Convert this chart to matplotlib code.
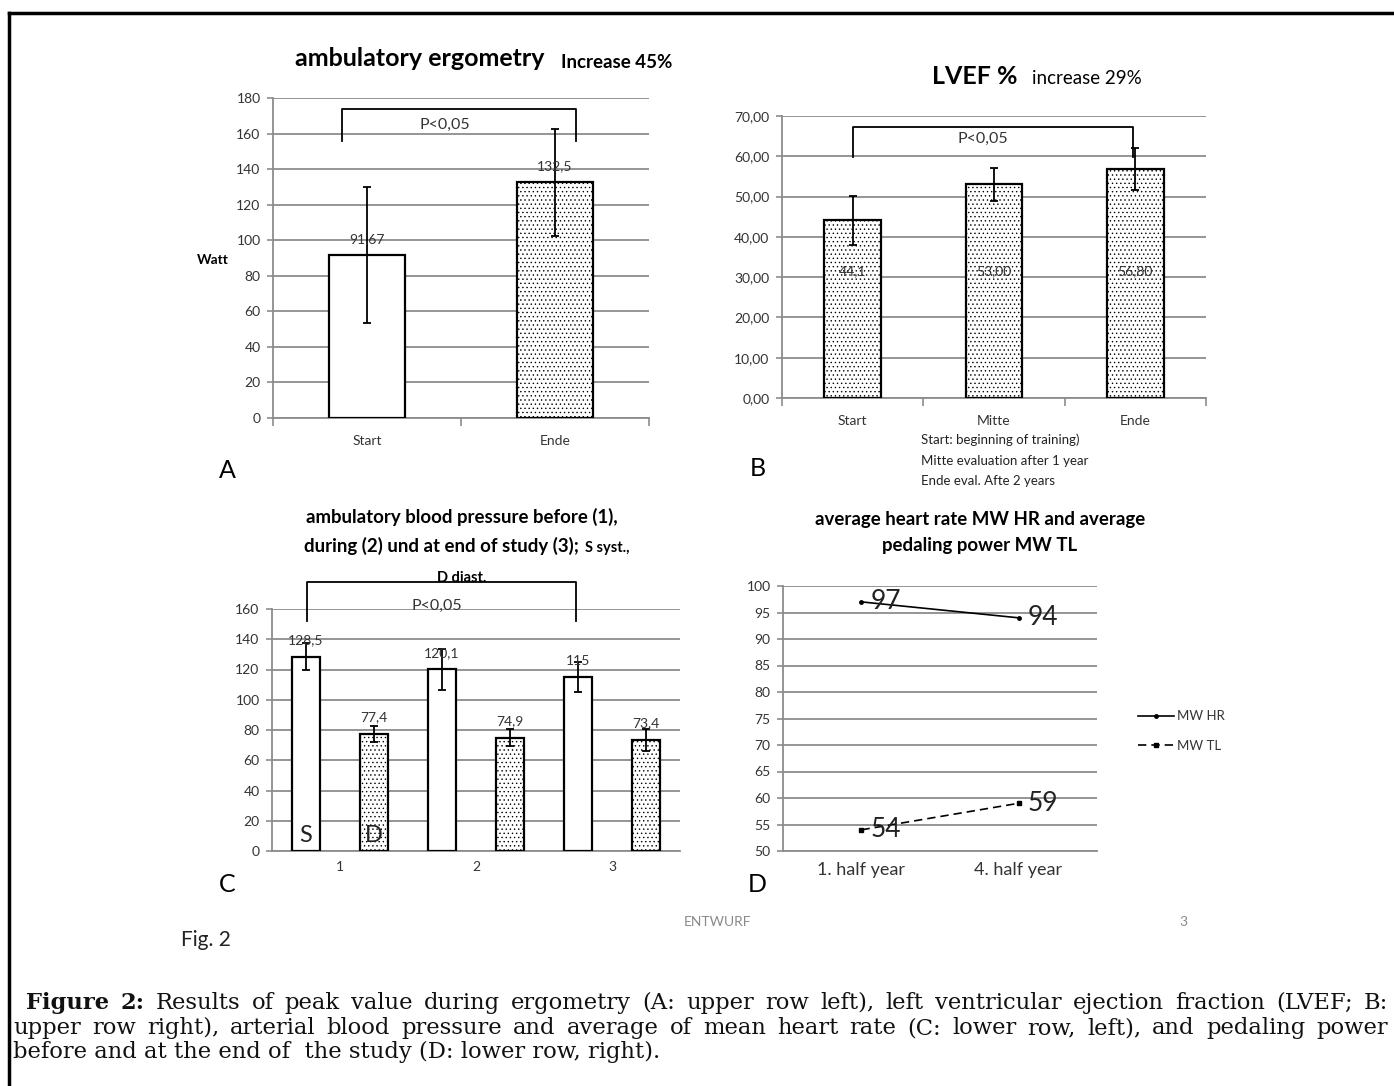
import matplotlib
matplotlib.use('Agg')
import matplotlib.pyplot as plt
from matplotlib.lines import Line2D

# ---------------- data ----------------
A_cats = ['Start', 'Ende']
A_vals = [91.67, 132.5]
A_err = [38.5, 30.0]
A_labels = ['91,67', '132,5']

B_cats = ['Start', 'Mitte', 'Ende']
B_vals = [44.1, 53.0, 56.8]
B_err = [6.1, 4.0, 5.2]
B_labels = ['44,1', '53,00', '56,80']

C_cats = ['1', '2', '3']
C_syst = [128.5, 120.1, 115.0]
C_syst_err = [9.0, 13.5, 10.0]
C_syst_labels = ['128,5', '120,1', '115']
C_diast = [77.4, 74.9, 73.4]
C_diast_err = [5.3, 5.6, 7.5]
C_diast_labels = ['77,4', '74,9', '73,4']

D_cats = ['1. half year', '4. half year']
D_hr = [97, 94]
D_tl = [54, 59]

# ---------------- setup ----------------
W, H = 1394, 1086
plt.rcParams['font.family'] = ['Lato', 'DejaVu Sans']
plt.rcParams['hatch.linewidth'] = 0.5
fig = plt.figure(figsize=(W / 100, H / 100), dpi=100)

GRAY = '#8c8c8c'
TXT = '#333333'
SERIF = ['DejaVu Serif']
HATCH = '....'


def px(x, y):
    return x / W, 1 - y / H


def ftext(x, y, s, **kw):
    return fig.text(x / W, 1 - y / H, s, **kw)


def ax_at(l, t, r, b):
    return fig.add_axes([l / W, 1 - b / H, (r - l) / W, (b - t) / H])


def style(ax, ymax, step, fmt, ncat, xpad, xfs=10, boundary_ticks=True, ymin=0):
    ax.set_ylim(ymin, ymax)
    ticks = list(range(ymin, ymax + 1, step))
    ax.set_yticks(ticks)
    ax.set_yticklabels([fmt(t) for t in ticks])
    ax.set_xlim(-0.5, ncat - 0.5)
    ax.yaxis.grid(True, color=GRAY, lw=1.3)
    ax.set_axisbelow(True)
    for s in ['top', 'right']:
        ax.spines[s].set_visible(False)
    for s in ['left', 'bottom']:
        ax.spines[s].set_color(GRAY)
        ax.spines[s].set_linewidth(1.3)
    ax.tick_params(axis='y', length=4, color=GRAY, width=1.2, labelsize=10,
                   labelcolor=TXT, pad=5)
    ax.tick_params(axis='x', which='major', length=0, labelsize=xfs,
                   labelcolor=TXT, pad=xpad)
    if boundary_ticks:
        ax.set_xticks([i - 0.5 for i in range(ncat + 1)], minor=True)
        ax.tick_params(axis='x', which='minor', length=6, color=GRAY, width=1.2)


def bracket(ax, x0, x1, ytop, ybot):
    ax.plot([x0, x0, x1, x1], [ybot, ytop, ytop, ybot], color='black',
            lw=1.3, clip_on=False, zorder=5)


EB = dict(ecolor='black', elinewidth=1.3, capsize=3, capthick=1.3)

# ---------------- Panel A ----------------
axA = ax_at(273, 98, 649, 418)
style(axA, 180, 20, lambda v: f'{v}', 2, xpad=12)
xa = list(range(len(A_cats)))
axA.bar(xa[0], A_vals[0], 0.4, color='white', edgecolor='black', lw=1.6,
        yerr=A_err[0], error_kw=EB, zorder=3)
axA.bar(xa[1], A_vals[1], 0.4, color='white', edgecolor='black', lw=1.6,
        hatch=HATCH, yerr=A_err[1], error_kw=EB, zorder=3)
axA.set_xticks(xa)
axA.set_xticklabels(A_cats)
for x, v, lab in zip(xa, A_vals, A_labels):
    axA.annotate(lab, (x, v), xytext=(0, 16), textcoords='offset pixels',
                 ha='center', va='center', fontsize=10, color=TXT, zorder=6)
bracket(axA, -0.133, 1.112, 173.8, 156)
axA.text(0.415, 165, 'P<0,05', ha='center', va='center', fontsize=11.5, color=TXT)
ftext(420, 58, 'ambulatory ergometry', ha='center', va='center',
      fontsize=18, weight='bold')
ftext(617, 63, 'Increase 45%', ha='center', va='center', fontsize=13.5, weight='bold')
ftext(213, 260, 'Watt', ha='center', va='center', fontsize=10, weight='bold')
ftext(227, 470, 'A', ha='center', va='center', fontsize=18)

# ---------------- Panel B ----------------
axB = ax_at(782, 116, 1206, 398)
style(axB, 70, 10, lambda v: f'{v},00', 3, xpad=12)
xb = list(range(len(B_cats)))
axB.bar(xb, B_vals, 0.4, color='white', edgecolor='black', lw=1.6,
        hatch=HATCH, yerr=B_err, error_kw=EB, zorder=3)
axB.set_xticks(xb)
axB.set_xticklabels(B_cats)
for x, lab in zip(xb, B_labels):
    axB.text(x, 31.6, lab, ha='center', va='center', fontsize=10, color=TXT, zorder=6)
bracket(axB, 0.0, 1.98, 67.3, 59.8)
axB.text(0.92, 64.3, 'P<0,05', ha='center', va='center', fontsize=11.5, color=TXT)
ftext(975, 77, 'LVEF %', ha='center', va='center', fontsize=18, weight='bold')
ftext(1087, 78, 'increase 29%', ha='center', va='center', fontsize=13.5)
for i, s in enumerate(['Start: beginning of training)',
                       'Mitte evaluation after 1 year',
                       'Ende eval. Afte 2 years']):
    ftext(921, 440 + 20.5 * i, s, ha='left', va='center', fontsize=9.5, color='#222222')
ftext(758, 468, 'B', ha='center', va='center', fontsize=18)

# ---------------- Panel C ----------------
axC = ax_at(272, 609, 680, 851)
style(axC, 160, 20, lambda v: f'{v}', 3, xpad=7, boundary_ticks=False)
xc = list(range(len(C_cats)))
xs = [x - 0.25 for x in xc]
xd = [x + 0.25 for x in xc]
axC.bar(xs, C_syst, 0.2, color='white', edgecolor='black', lw=1.6,
        yerr=C_syst_err, error_kw=EB, zorder=3)
axC.bar(xd, C_diast, 0.2, color='white', edgecolor='black', lw=1.6,
        hatch=HATCH, yerr=C_diast_err, error_kw=EB, zorder=3)
axC.set_xticks(xc)
axC.set_xticklabels(C_cats)
for x, v, lab in list(zip(xs, C_syst, C_syst_labels)) + list(zip(xd, C_diast, C_diast_labels)):
    axC.annotate(lab, (x, v), xytext=(0, 16.5), textcoords='offset pixels',
                 ha='center', va='center', fontsize=10, color=TXT, zorder=6)
axC.text(xs[0], 10, 'S', ha='center', va='center', fontsize=17, color='#222222', zorder=6)
axC.text(xd[0], 10, 'D', ha='center', va='center', fontsize=17, color='#222222', zorder=6)
bracket(axC, -0.243, 1.735, 177.9, 152)
axC.text(0.713, 162, 'P<0,05', ha='center', va='center', fontsize=11.5, color=TXT)
ftext(462, 517, 'ambulatory blood pressure before (1),', ha='center', va='center',
      fontsize=13.4, weight='bold')
ftext(579, 552, 'during (2) und at end of study (3);', ha='right', va='baseline',
      fontsize=13.4, weight='bold')
ftext(585, 552, 'S syst.,', ha='left', va='baseline', fontsize=10.5, weight='bold')
ftext(462, 578, 'D diast.', ha='center', va='center', fontsize=10.5, weight='bold', zorder=1)
ftext(227, 885, 'C', ha='center', va='center', fontsize=18)

# ---------------- Panel D ----------------
axD = ax_at(783, 586, 1097, 851)
style(axD, 100, 5, lambda v: f'{v}', 2, xpad=8, xfs=13, boundary_ticks=False, ymin=50)
xdd = list(range(len(D_cats)))
axD.plot(xdd, D_hr, color='black', lw=1.2, marker='o', ms=2.5, label='MW HR', zorder=4)
axD.plot(xdd, D_tl, color='black', lw=1.2, ls=(0, (5, 3)), marker='s', ms=2.5,
         label='MW TL', zorder=4)
axD.set_xticks(xdd)
axD.set_xticklabels(D_cats)
for x, v in list(zip(xdd, D_hr)) + list(zip(xdd, D_tl)):
    axD.annotate(f'{v}', (x, v), xytext=(24, 0), textcoords='offset pixels',
                 ha='center', va='center', fontsize=19, color='#222222', zorder=6)
axD.legend(loc='center left', bbox_to_anchor=px(1126, 731), bbox_transform=fig.transFigure,
           frameon=False, fontsize=9.5, handlelength=2.7, labelspacing=1.3,
           handletextpad=0.3, labelcolor=TXT)
ftext(980, 520, 'average heart rate MW HR and average', ha='center', va='center',
      fontsize=13.4, weight='bold')
ftext(980, 546, 'pedaling power MW TL', ha='center', va='center',
      fontsize=13.4, weight='bold')
ftext(757, 884, 'D', ha='center', va='center', fontsize=18)

# ---------------- page furniture ----------------
ftext(718, 922, 'ENTWURF', ha='center', va='center', fontsize=10, color='#8a8a8a')
ftext(1183, 922, '3', ha='center', va='center', fontsize=10, color='#8a8a8a')
ftext(206, 940, 'Fig. 2', ha='center', va='center', fontsize=15, color='#222222')

fig.add_artist(Line2D([9 / W, 9 / W], [0, 1 - 13 / H], transform=fig.transFigure,
                      color='black', lw=2.5))
fig.add_artist(Line2D([9 / W, 1], [1 - 13 / H, 1 - 13 / H], transform=fig.transFigure,
                      color='black', lw=2.5))

# ---------------- caption (justified) ----------------
renderer = fig.canvas.get_renderer()
L1_text = 'Figure 2: Results of peak value during ergometry (A: upper row left), left ventricular ejection fraction (LVEF; B:'
L1 = [('Figure', 'bold'), ('2:', 'bold')] + [(w, 'normal') for w in L1_text.split()[2:]]
L2 = [(w, 'normal') for w in
      'upper row right), arterial blood pressure and average of mean heart rate (C: lower row, left), and pedaling power'.split()]
L3 = 'before and at the end of  the study (D: lower row, right).'

probe = fig.text(0, 0, L1_text, fontsize=10, family=SERIF)
w10 = probe.get_window_extent(renderer).width
probe.remove()
CFS = 10 * 1285 / w10


def justify(y, x0, x1, words):
    items = []
    for s, wt in words:
        t = fig.text(0, 0, s, fontsize=CFS, weight=wt, family=SERIF, va='center',
                     color='#111111')
        items.append((t, t.get_window_extent(renderer).width))
    total = sum(w for _, w in items)
    gap = (x1 - x0 - total) / (len(items) - 1)
    x = x0
    for t, w in items:
        t.set_position(px(x, y))
        x += w + gap


justify(1003, 26, 1388, L1)
justify(1028, 13, 1388, L2)
ftext(13, 1052, L3, ha='left', va='center', fontsize=CFS, family=SERIF, color='#111111')

fig.savefig('out.png', dpi=100)
